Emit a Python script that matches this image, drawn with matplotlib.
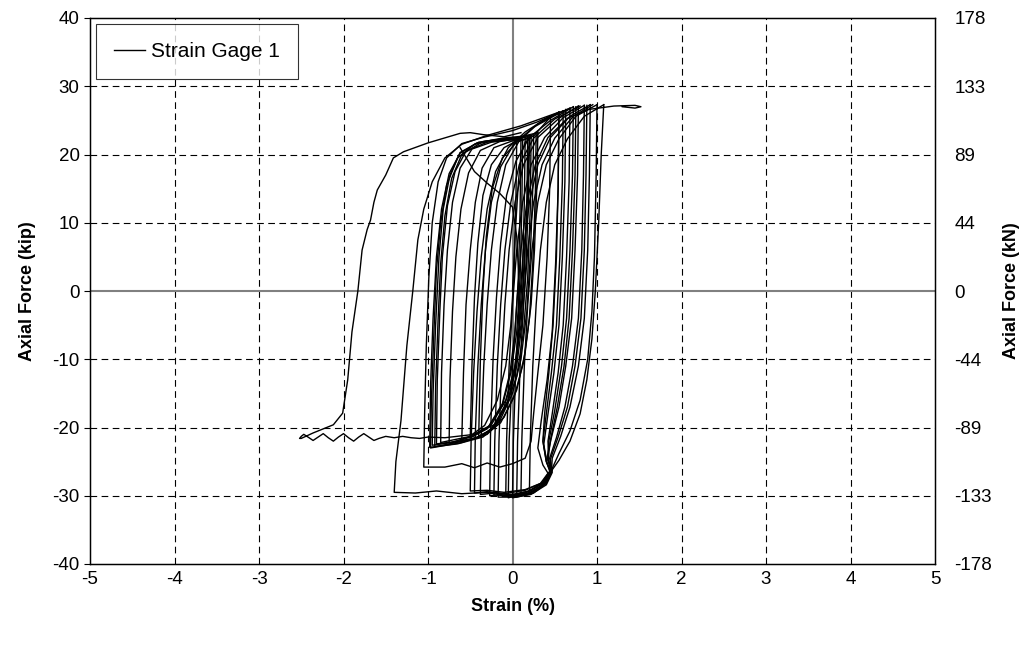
import matplotlib
matplotlib.use("Agg")
import matplotlib.pyplot as plt

plt.rcParams['font.family'] = ['Liberation Sans', 'DejaVu Sans']
plt.rcParams['axes.unicode_minus'] = False

# hand-read hysteresis record, one list of (strain %, force kip) per loop
loop_start = [(0.0, 0.0), (0.03, 8), (0.07, 16), (0.1, 20), (0.15, 21.8), (0.2, 22.3),
              (0.17, 12), (0.12, 0), (0.05, -10), (-0.05, -16), (-0.2, -19.5), (-0.45, -21),
              (-0.8, -21.5), (-1.0, -21.4), (-1.1, -21.6), (-1.2, -21.5), (-1.3, -21.3),
              (-1.4, -21.5), (-1.5, -21.3), (-1.58, -21.6), (-1.64, -21.9), (-1.7, -21.4),
              (-1.76, -20.9), (-1.82, -21.4), (-1.88, -22.0), (-1.94, -21.5), (-2.0, -20.9),
              (-2.06, -21.4), (-2.12, -22.0), (-2.18, -21.5), (-2.24, -20.9), (-2.3, -21.4),
              (-2.36, -21.9), (-2.42, -21.4), (-2.47, -21.0), (-2.5, -21.3), (-2.52, -21.6),
              (-2.5, -21.6), (-2.36, -20.8), (-2.12, -19.6), (-2.01, -17.9), (-1.95, -13),
              (-1.9, -6), (-1.83, 0), (-1.78, 6), (-1.72, 9), (-1.68, 10.4), (-1.64, 13),
              (-1.6, 14.8), (-1.5, 17), (-1.41, 19.5), (-1.29, 20.4), (-1.0, 21.7),
              (-0.62, 23.1), (-0.5, 23.2), (-0.34, 22.9), (-0.1, 22.6), (0.1, 23.2)]
loop_odd = [(-0.62, 21.0), (-0.45, 17.5), (-0.3, 15.8), (-0.15, 14.3), (0.0, 12.3),
            (0.05, 8), (0.07, 3), (0.08, -5)]
loop_m1 = [(0.25, 22.8), (0.24, 15), (0.21, 5), (0.17, -3), (0.1, -10), (0.0, -15),
           (-0.15, -19), (-0.35, -21.2), (-0.6, -22), (-0.95, -22.6), (-0.94, -15),
           (-0.91, -5), (-0.87, 5), (-0.82, 12), (-0.74, 17), (-0.62, 20.3), (-0.4, 21.8),
           (-0.1, 22.3), (0.2, 22.6)]
loop_m2 = [(0.2, 22.6), (0.19, 14), (0.16, 4), (0.12, -4), (0.05, -11), (-0.05, -16),
           (-0.2, -19.8), (-0.4, -21.5), (-0.7, -22.3), (-0.92, -22.8), (-0.91, -14),
           (-0.88, -4), (-0.85, 4), (-0.8, 11), (-0.72, 16.5), (-0.6, 20), (-0.35, 21.9),
           (-0.05, 22.4), (0.15, 22.5)]
loop_m3 = [(0.15, 22.5), (0.14, 13), (0.12, 3), (0.08, -5), (0.02, -12), (-0.1, -17),
           (-0.25, -20.3), (-0.45, -21.6), (-0.7, -22.1), (-0.9, -22.4), (-0.89, -13),
           (-0.86, -3), (-0.83, 5), (-0.77, 12.5), (-0.68, 17.5), (-0.55, 20.5),
           (-0.3, 21.8), (0.0, 22.3), (0.3, 23.2)]
loop_m4 = [(0.3, 23.2), (0.29, 16), (0.26, 6), (0.22, -2), (0.15, -9), (0.05, -14.5),
           (-0.1, -18.5), (-0.3, -21), (-0.6, -22.2), (-0.97, -23), (-0.96, -16),
           (-0.93, -6), (-0.9, 3), (-0.85, 10), (-0.78, 15.5), (-0.65, 19.5),
           (-0.45, 21.5), (-0.15, 22.2), (0.1, 22.1)]
loop_m5 = [(0.1, 22.1), (0.09, 12), (0.07, 2), (0.03, -6), (-0.03, -12), (-0.12, -16.5),
           (-0.28, -19.8), (-0.5, -21.3), (-0.85, -22.2), (-0.84, -12), (-0.81, -2),
           (-0.77, 6), (-0.71, 13), (-0.62, 18), (-0.48, 20.8), (-0.25, 21.8),
           (0.0, 22.2), (0.18, 22.6)]
loop_m6 = [(0.18, 22.6), (0.17, 13), (0.14, 3), (0.1, -5), (0.03, -11), (-0.08, -16),
           (-0.25, -19.6), (-0.45, -21.2), (-0.6, -21.8), (-0.58, -12), (-0.55, -2),
           (-0.5, 6), (-0.44, 13), (-0.36, 18), (-0.22, 21), (0.0, 22), (0.12, 22.2)]
loop_m7 = [(0.12, 22.2), (0.11, 12), (0.09, 2), (0.05, -6), (-0.02, -12), (-0.12, -16.8),
           (-0.3, -20.2), (-0.5, -21.5), (-0.48, -11), (-0.45, -1), (-0.41, 7),
           (-0.35, 14), (-0.25, 18.5), (-0.1, 21), (0.05, 22), (0.22, 22.4)]
loop_m8 = [(0.22, 22.4), (0.21, 12), (0.18, 2), (0.13, -6), (0.05, -12.5), (-0.08, -17),
           (-0.25, -20.3), (-0.4, -21.3), (-0.38, -10), (-0.35, 0), (-0.31, 8),
           (-0.24, 15), (-0.12, 19.5), (0.05, 21.8), (0.25, 22.7), (0.45, 25.5)]
loop_m9 = [(0.05, 22.0), (0.04, 13), (0.02, 3), (-0.02, -5), (-0.08, -11), (-0.18, -16),
           (-0.33, -19.7), (-0.52, -21.4), (-0.75, -22.3), (-0.74, -13), (-0.71, -3),
           (-0.67, 5), (-0.61, 12), (-0.52, 17.3), (-0.38, 20.6), (-0.15, 21.9),
           (0.1, 22.4)]
loop_m10 = [(0.28, 23.0), (0.27, 14), (0.24, 4), (0.2, -4), (0.13, -10.5), (0.02, -15.5),
            (-0.14, -19.3), (-0.35, -21.4), (-0.65, -22.4), (-0.98, -22.9), (-0.97, -14),
            (-0.94, -4), (-0.9, 5), (-0.84, 12), (-0.75, 17.2), (-0.62, 20.2),
            (-0.42, 21.7), (-0.12, 22.4), (0.22, 22.8)]
loop_l3 = [(0.45, 25.5), (0.44, 15), (0.41, 5), (0.36, -5), (0.3, -12), (0.25, -18),
           (0.22, -22), (0.15, -24.5), (0.0, -25.3), (-0.15, -25.8), (-0.3, -25.2),
           (-0.45, -25.9), (-0.6, -25.3), (-0.8, -25.8), (-1.05, -25.8), (-1.04, -18),
           (-1.02, -8), (-0.99, 2), (-0.95, 10), (-0.88, 16), (-0.78, 19.5),
           (-0.6, 21.6), (-0.35, 22.5), (0.0, 23.5), (0.3, 24.8), (0.55, 26.2)]
loop_l2 = [(0.55, 26.2), (0.54, 15), (0.52, 5), (0.48, -5), (0.43, -12), (0.38, -18),
           (0.36, -22), (0.4, -25), (0.45, -26.5), (0.38, -28), (0.2, -29.3),
           (0.0, -29.8), (-0.3, -29.5), (-0.6, -29.7), (-0.9, -29.3), (-1.15, -29.6),
           (-1.4, -29.5), (-1.38, -25), (-1.32, -19), (-1.25, -8), (-1.18, 0),
           (-1.12, 7.5), (-1.05, 12), (-0.95, 16), (-0.8, 19.5), (-0.6, 21.5),
           (-0.3, 22.8), (0.1, 24.2), (0.55, 26.2)]
loop_r1 = [(0.55, 26.2), (0.54, 15), (0.51, 4), (0.47, -6), (0.41, -13), (0.34, -19),
           (0.3, -23), (0.36, -25.5), (0.42, -26.7), (0.33, -28.2), (0.15, -29.1),
           (-0.1, -29.5), (-0.3, -29.2), (-0.5, -29.3), (-0.49, -22), (-0.46, -12),
           (-0.42, -3), (-0.37, 5), (-0.3, 12), (-0.2, 17.5), (-0.05, 21), (0.15, 23.3),
           (0.4, 25.3), (0.6, 26.4)]
loop_r2 = [(0.6, 26.4), (0.59, 16), (0.56, 5), (0.52, -5), (0.46, -12), (0.4, -18),
           (0.36, -22), (0.4, -25), (0.45, -26.3), (0.37, -28), (0.2, -29.3),
           (0.0, -29.9), (-0.2, -29.6), (-0.38, -29.8), (-0.37, -21), (-0.34, -11),
           (-0.3, -2), (-0.25, 6), (-0.18, 13), (-0.08, 18.5), (0.08, 22), (0.3, 24.5),
           (0.5, 25.8), (0.68, 26.8)]
loop_r3 = [(0.68, 26.8), (0.67, 16), (0.64, 5), (0.6, -5), (0.54, -12), (0.47, -18),
           (0.42, -22), (0.43, -25), (0.46, -26.5), (0.38, -28.3), (0.2, -29.6),
           (0.0, -30.1), (-0.15, -29.8), (-0.27, -30), (-0.26, -21), (-0.23, -10),
           (-0.19, -1), (-0.14, 7), (-0.07, 14), (0.04, 19), (0.2, 22.5), (0.45, 25),
           (0.72, 27)]
loop_r4 = [(0.72, 27), (0.71, 17), (0.68, 6), (0.64, -4), (0.58, -11), (0.5, -17.5),
           (0.43, -22), (0.42, -24.8), (0.47, -26.3), (0.4, -28), (0.25, -29.4),
           (0.05, -30.2), (-0.17, -30.2), (-0.16, -22), (-0.13, -11), (-0.09, -2),
           (-0.04, 6), (0.03, 13), (0.13, 18.5), (0.3, 22.5), (0.55, 25.3), (0.78, 27.1)]
loop_r5 = [(0.78, 27.1), (0.77, 17), (0.74, 6), (0.7, -4), (0.63, -11), (0.55, -17),
           (0.46, -21.5), (0.41, -24.3), (0.46, -26.5), (0.4, -28.2), (0.25, -29.6),
           (0.08, -30.1), (-0.08, -30), (-0.07, -22), (-0.04, -11), (0.0, -2),
           (0.05, 6), (0.12, 13), (0.22, 18.5), (0.38, 22.5), (0.6, 25.4), (0.85, 27.2)]
loop_r6 = [(0.85, 27.2), (0.84, 17), (0.82, 6), (0.78, -4), (0.71, -11), (0.62, -17),
           (0.52, -21.5), (0.44, -24.5), (0.47, -26.6), (0.4, -28.4), (0.22, -29.8),
           (0.0, -30.3), (0.01, -22), (0.04, -11), (0.08, -2), (0.13, 6), (0.2, 13),
           (0.3, 18.5), (0.45, 22.5), (0.68, 25.6), (0.92, 27.3)]
loop_r7 = [(0.92, 27.3), (0.91, 17), (0.89, 6), (0.85, -4), (0.78, -11), (0.68, -17),
           (0.57, -21.3), (0.47, -24.5), (0.46, -26.6), (0.35, -28.5), (0.2, -29.6),
           (0.1, -29.9), (0.11, -22), (0.14, -11), (0.18, -2), (0.23, 6), (0.3, 13),
           (0.4, 18.5), (0.55, 22.3), (0.75, 25.6), (1.0, 27.3)]
loop_r8 = [(1.0, 27.3), (0.99, 17), (0.97, 5), (0.94, -3), (0.89, -10), (0.8, -16),
           (0.68, -20.5), (0.55, -23.8), (0.47, -26), (0.37, -28), (0.2, -29.4),
           (0.21, -22), (0.24, -11), (0.28, -2), (0.33, 6), (0.4, 13), (0.5, 18.5),
           (0.65, 22.3), (0.85, 25.6), (1.08, 27.3)]
loop_r9 = [(1.08, 27.3), (1.05, 20), (1.02, 10), (0.98, 0), (0.94, -7), (0.88, -13),
           (0.8, -18), (0.68, -22), (0.55, -24.8), (0.47, -26.2), (0.35, -28.2),
           (0.15, -29.6), (-0.05, -30.3), (-0.04, -22), (0.0, -11), (0.05, -2),
           (0.1, 6), (0.17, 13), (0.27, 18.5), (0.42, 22.5), (0.65, 25.3), (0.9, 26.6),
           (1.2, 27.1), (1.45, 27.2), (1.52, 27.0), (1.45, 26.8), (1.3, 27.0)]
loop_r10 = [(0.63, 26.6), (0.62, 16), (0.59, 5), (0.55, -5), (0.49, -12), (0.42, -18),
            (0.37, -22.5), (0.41, -25.3), (0.44, -26.4), (0.35, -28.1), (0.15, -29.2),
            (-0.1, -29.7), (-0.3, -29.4), (-0.45, -29.6), (-0.44, -21), (-0.41, -11),
            (-0.37, -2), (-0.32, 6), (-0.25, 13), (-0.14, 18.2), (0.02, 21.6),
            (0.25, 24), (0.5, 25.7), (0.65, 26.6)]
loop_r11 = [(0.88, 27.2), (0.87, 17), (0.85, 6), (0.81, -4), (0.74, -11), (0.65, -17),
            (0.54, -21.4), (0.45, -24.6), (0.46, -26.5), (0.38, -28.3), (0.2, -29.7),
            (0.05, -30.0), (0.06, -22), (0.09, -11), (0.13, -2), (0.18, 6), (0.25, 13),
            (0.35, 18.5), (0.5, 22.4), (0.72, 25.6), (0.95, 27.3)]
loop_r12 = [(0.75, 27.0), (0.74, 17), (0.71, 6), (0.67, -4), (0.61, -11), (0.53, -17),
            (0.45, -21.8), (0.42, -24.6), (0.46, -26.4), (0.39, -28.1), (0.22, -29.5),
            (0.0, -30.0), (-0.22, -29.9), (-0.21, -22), (-0.18, -11), (-0.14, -2),
            (-0.09, 6), (-0.02, 13), (0.08, 18.5), (0.25, 22.4), (0.5, 25.2), (0.8, 27.1)]

loops = [loop_start, loop_odd, loop_m1, loop_m2, loop_m3, loop_m4, loop_m5, loop_m6,
         loop_m7, loop_m8, loop_m9, loop_m10, loop_l3, loop_l2, loop_r1, loop_r2,
         loop_r3, loop_r4, loop_r5, loop_r6, loop_r7, loop_r8, loop_r9, loop_r10,
         loop_r11, loop_r12]

x_ticks = [-5, -4, -3, -2, -1, 0, 1, 2, 3, 4, 5]
kip_ticks = [40, 30, 20, 10, 0, -10, -20, -30, -40]
kn_labels = ['178', '133', '89', '44', '0', '-44', '-89', '-133', '-178']

fig = plt.figure(figsize=(10.21, 6.48), dpi=100)
ax = fig.add_axes([90 / 1021, 1 - 564 / 648, 845 / 1021, 546 / 648])

for xv in x_ticks[1:-1]:
    if xv != 0:
        ax.axvline(xv, color='black', lw=0.8, ls=(0, (6, 4)), zorder=1)
for yv in kip_ticks[1:-1]:
    if yv != 0:
        ax.axhline(yv, color='black', lw=0.8, ls=(0, (6, 4)), zorder=1)
ax.axhline(0, color='#808080', lw=1.5, zorder=1)
ax.axvline(0, color='#808080', lw=1.5, zorder=1)

for i, lp in enumerate(loops):
    xs = [p[0] for p in lp]
    ys = [p[1] for p in lp]
    ax.plot(xs, ys, color='black', lw=1.0, zorder=3,
            label='Strain Gage 1' if i == 0 else None)

ax.set_xlim(-5, 5)
ax.set_ylim(-40, 40)
ax.set_xticks(x_ticks)
ax.set_yticks(kip_ticks)
ax.tick_params(axis='both', labelsize=13.5, direction='out', length=4, width=0.8)
ax.tick_params(axis='x', length=0, pad=5)
for s in ax.spines.values():
    s.set_linewidth(1.0)
ax.set_xlabel('Strain (%)', fontsize=13, fontweight='bold', labelpad=7)
ax.set_ylabel('Axial Force (kip)', fontsize=13, fontweight='bold', labelpad=12)

ax2 = ax.twinx()
ax2.set_ylim(-40, 40)
ax2.set_yticks(kip_ticks)
ax2.set_yticklabels(kn_labels)
ax2.tick_params(axis='y', labelsize=13.5, length=0, pad=14)
ax2.set_ylabel('Axial Force (kN)', fontsize=13, fontweight='bold', labelpad=8)

leg = ax.legend(loc='upper left', fontsize=15, frameon=True, fancybox=False,
                edgecolor='black', handlelength=1.5, handletextpad=0.3,
                borderpad=0.85, borderaxespad=0.3, bbox_to_anchor=(0.0, 1.0))
leg.get_frame().set_linewidth(0.8)

fig.savefig('out.png', dpi=100)
